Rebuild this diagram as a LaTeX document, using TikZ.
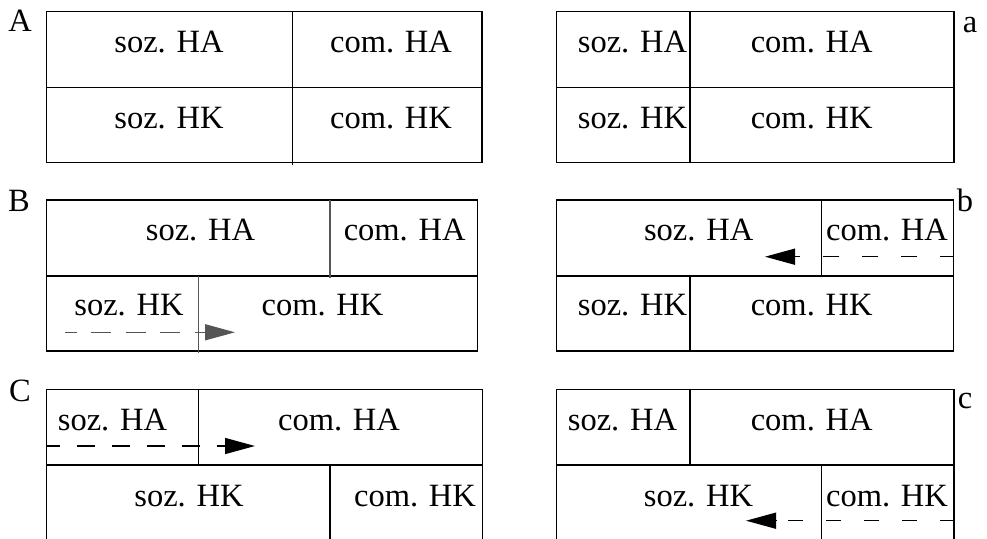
\documentclass[tikz,border=0pt]{standalone}
\usepackage{fontspec}
\setmainfont{Liberation Serif}
\usetikzlibrary{arrows.meta}
\definecolor{grayline}{HTML}{555555}
\tikzset{
  box/.style={line width=1.5pt, draw=black},
  divider/.style={line width=1.5pt, draw=black},
  gdivider/.style={line width=1.5pt, draw=grayline},
  lbl/.style={font=\fontsize{32.5}{32.5}\selectfont, anchor=base, inner sep=0pt},
  tag/.style={font=\fontsize{32.5}{32.5}\selectfont, anchor=base, inner sep=0pt},
  headtip/.style={-{Triangle[length=30pt,width=16pt]}, line width=1.5pt},
  dline/.style={line width=1.5pt},
}
\begin{document}
\begin{tikzpicture}[x=1pt,y=-1pt]
\useasboundingbox (0,0) rectangle (987,538);
\clip (0,0) rectangle (987,538);

% ---------------- Panel A ----------------
\node[tag] (tA) at (20,31.7) {A};
\draw[box] (46.7,11.7) rectangle (482,162.3);
\draw[divider] (46.7,87.3) -- (482,87.3);
\draw[divider] (292.7,11.7) -- (292.7,164.5);
\node[lbl] (A1) at (169,52.7) {soz. HA};
\node[lbl] (A2) at (391,52.7) {com. HA};
\node[lbl] (A3) at (169,128) {soz. HK};
\node[lbl] (A4) at (391,128) {com. HK};

% ---------------- Panel a ----------------
\node[tag] (ta) at (970,32.7) {a};
\draw[box] (556.7,11.7) rectangle (954,162.3);
\draw[divider] (556.7,87.3) -- (954,87.3);
\draw[divider] (690,11.7) -- (690,162.3);
\node[lbl] (a1) at (632.5,52.7) {soz. HA};
\node[lbl] (a2) at (811.7,52.7) {com. HA};
\node[lbl] (a3) at (632.5,128) {soz. HK};
\node[lbl] (a4) at (811.7,128) {com. HK};

% ---------------- Panel B ----------------
\node[tag] (tB) at (19,211.7) {B};
\draw[box] (46.7,200) rectangle (477.3,351);
\draw[divider] (46.7,276) -- (477.3,276);
\draw[gdivider] (330,200) -- (330,277.5);
\draw[gdivider] (198.3,276) -- (198.3,352.5);
\node[lbl] (B1) at (200.5,240) {soz. HA};
\node[lbl] (B2) at (404.7,240) {com. HA};
\node[lbl] (B3) at (129,315) {soz. HK};
\node[lbl] (B4) at (322.5,315) {com. HK};
\coordinate (Bs) at (65,332.3);
\coordinate (Bh) at (205,332.3);
\coordinate (Bt) at (235,332.3);
\draw[dline, draw=grayline, dash pattern=on 20pt off 14.5pt, dash phase=8.3pt] (Bs) -- (Bh);
\draw[headtip, draw=grayline, fill=grayline] (Bh) -- (Bt);

% ---------------- Panel b ----------------
\node[tag] (tb) at (965,211.7) {b};
\draw[box] (556.7,200) rectangle (953.3,351);
\draw[divider] (556.7,276) -- (953.3,276);
\draw[divider] (821.7,200) -- (821.7,276);
\draw[divider] (690,276) -- (690,351);
\node[lbl] (b1) at (698.7,240) {soz. HA};
\node[lbl] (b2) at (887,240) {com. HA};
\node[lbl] (b3) at (632.5,315) {soz. HK};
\node[lbl] (b4) at (811.7,315) {com. HK};
\coordinate (bs) at (953.3,256.7);
\coordinate (bh) at (795.7,256.7);
\coordinate (bt) at (765,256.7);
\draw[dline, dash pattern=on 16pt off 23pt, dash phase=3pt] (bs) -- (bh);
\draw[headtip] (bh) -- (bt);

% ---------------- Panel C ----------------
\node[tag] (tC) at (20,401.7) {C};
\draw[box] (46.7,389.3) rectangle (482.3,560);
\draw[divider] (46.7,465) -- (482.3,465);
\draw[divider] (198.3,389.3) -- (198.3,465);
\draw[divider] (330,465) -- (330,560);
\node[lbl] (C1) at (112.5,430) {soz. HA};
\node[lbl] (C2) at (339,430) {com. HA};
\node[lbl] (C3) at (189,506) {soz. HK};
\node[lbl] (C4) at (415,506) {com. HK};
\coordinate (Cs) at (46.7,446);
\coordinate (Ch) at (224.3,446);
\coordinate (Ct) at (255,446);
\draw[dline, dash pattern=on 18pt off 17pt, dash phase=5pt] (Cs) -- (Ch);
\draw[headtip] (Ch) -- (Ct);

% ---------------- Panel c ----------------
\node[tag] (tc) at (965,408) {c};
\draw[box] (556.7,389.3) rectangle (954,560);
\draw[divider] (556.7,465) -- (954,465);
\draw[divider] (690,389.3) -- (690,465);
\draw[divider] (821.7,465) -- (821.7,560);
\node[lbl] (c1) at (622.5,430) {soz. HA};
\node[lbl] (c2) at (811.7,430) {com. HA};
\node[lbl] (c3) at (698.5,506) {soz. HK};
\node[lbl] (c4) at (887,506) {com. HK};
\coordinate (cs) at (954,520.7);
\coordinate (ch) at (776.7,520.7);
\coordinate (ct) at (746,520.7);
\draw[dline, dash pattern=on 15pt off 23pt, dash phase=1pt] (cs) -- (ch);
\draw[headtip] (ch) -- (ct);
\end{tikzpicture}
\end{document}
